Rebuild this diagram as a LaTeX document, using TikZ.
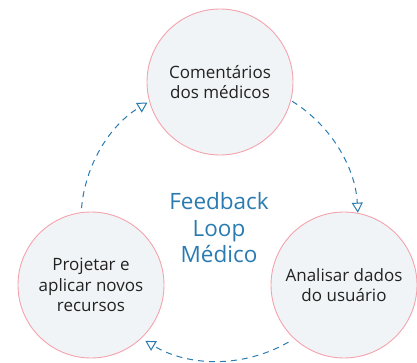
\documentclass[tikz,border=0pt]{standalone}
\usepackage{fontspec}
\setmainfont{Open Sans}
\usetikzlibrary{arrows.meta,calc}
\definecolor{ringc}{HTML}{F4A3AE}
\definecolor{fillc}{HTML}{F1F4F6}
\definecolor{bluec}{HTML}{2A7BB0}
\definecolor{textc}{HTML}{222222}
\tikzset{
  stage/.style={circle, draw=ringc, fill=fillc, line width=0.9pt, minimum size=146pt, inner sep=0pt,
    align=center, text=textc, font=\fontsize{17}{20.5}\selectfont},
  loop/.style={draw=bluec, line width=1pt, dash pattern=on 6pt off 5pt,
    -{Triangle[open, length=10pt, width=11pt, line width=1pt]}}
}
\begin{document}
\begin{tikzpicture}[x=1pt,y=1pt]
\useasboundingbox (0,0) rectangle (417,362);
\node[stage] (top) at (220,280) {Comentários\\dos médicos};
\node[stage] (left) at (91,77) {Projetar e\\aplicar novos\\recursos};
\node[stage] (right) at (344,77) {Analisar dados\\do usuário};
\node[text=bluec, align=center, font=\fontsize{22.5}{26.5}\selectfont] (title) at (219,134) {Feedback\\Loop\\Médico};
\coordinate (c) at (218,142);
\draw[loop] ($(c)+(58:140)$) arc[start angle=58, end angle=3, radius=140];
\draw[loop] ($(c)+(-60:141)$) arc[start angle=-60, end angle=-121, radius=141];
\draw[loop] ($(c)+(175:137)$) arc[start angle=175, end angle=121, radius=137];
\end{tikzpicture}
\end{document}
